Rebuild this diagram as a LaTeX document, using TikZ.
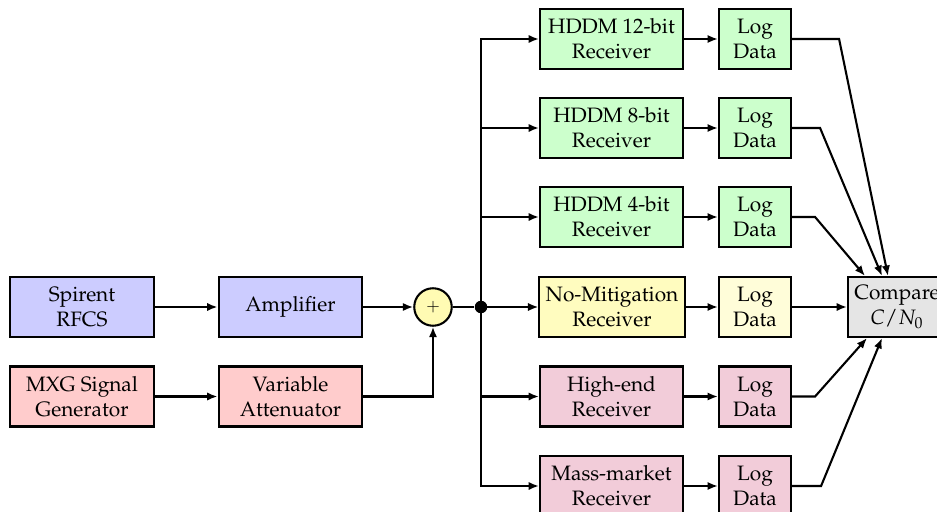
\documentclass[tikz,border=0pt]{standalone}
\usepackage[T1]{fontenc}
\usepackage{mathpazo}
\usetikzlibrary{arrows.meta,calc,positioning}

\tikzset{
  blk/.style={draw, line width=1pt, align=center, inner xsep=3pt, inner ysep=2pt,
              minimum height=28.8pt, font=\normalsize},
  srcbox/.style={blk, minimum width=69pt},
  rxbox/.style={blk, minimum width=68.6pt},
  logbox/.style={blk, minimum width=34.6pt},
  flow/.style={line width=1pt, -{Latex[length=5pt,width=4pt]}},
  wire/.style={line width=1pt},
}

\begin{document}
\begin{tikzpicture}[x=0.48pt, y=-0.48pt]
  \useasboundingbox (0,0) rectangle (937,512);

  % signal sources
  \node[srcbox, fill=blue!20] (spirent) at (82,307) {Spirent\\RFCS};
  \node[srcbox, fill=blue!20] (amp) at (290.5,307) {Amplifier};
  \node[srcbox, fill=red!20] (mxg) at (82,396.5) {MXG Signal\\Generator};
  \node[srcbox, fill=red!20] (att) at (290.5,396.5) {Variable\\Attenuator};

  % combiner and splitter
  \node[circle, draw, line width=1pt, fill=yellow!30, minimum size=18pt, inner sep=0pt,
        font=\footnotesize] (sum) at (433,307) {$+$};
  \node[circle, fill=black, inner sep=0pt, minimum size=6pt] (split) at (481,307) {};

  % receivers
  \node[rxbox, fill=green!20] (rx1) at (611.5,39) {HDDM 12-bit\\Receiver};
  \node[rxbox, fill=green!20] (rx2) at (611.5,128) {HDDM 8-bit\\Receiver};
  \node[rxbox, fill=green!20] (rx3) at (611.5,217) {HDDM 4-bit\\Receiver};
  \node[rxbox, fill=yellow!25] (rx4) at (612,307) {No-Mitigation\\Receiver};
  \node[rxbox, fill=purple!20] (rx5) at (611.5,396.5) {High-end\\Receiver};
  \node[rxbox, fill=purple!20] (rx6) at (611.5,486) {Mass-market\\Receiver};

  % data logging
  \node[logbox, fill=green!20] (log1) at (755,39) {Log\\Data};
  \node[logbox, fill=green!20] (log2) at (755,128) {Log\\Data};
  \node[logbox, fill=green!20] (log3) at (755,217) {Log\\Data};
  \node[logbox, fill=yellow!15] (log4) at (755,307) {Log\\Data};
  \node[logbox, fill=purple!20] (log5) at (755,396.5) {Log\\Data};
  \node[logbox, fill=purple!20] (log6) at (755,486) {Log\\Data};

  % comparison
  \node[blk, fill=gray!20, anchor=west] (cmp) at (847,307) {Compare\\$C/N_0$};

  % source chain
  \draw[flow] (spirent) -- (amp);
  \draw[flow] (amp) -- (sum);
  \draw[flow] (mxg) -- (att);
  \draw[flow] (att.east) -| (sum.south);
  \draw[wire] (sum) -- (split);

  % fan-out to receivers
  \foreach \i in {1,...,6} {
    \draw[flow] (split.center) |- (rx\i.west);
    \draw[flow] (rx\i) -- (log\i);
  }

  % entry points on the comparison block
  \coordinate (t1) at ($(cmp.north west)+(41,0)$);
  \coordinate (t2) at ($(cmp.north west)+(35,0)$);
  \coordinate (t3) at ($(cmp.north west)+(18,0)$);
  \coordinate (b5) at ($(cmp.south west)+(20,0)$);
  \coordinate (b6) at ($(cmp.south west)+(35,0)$);

  % logged data into the comparison
  \draw[flow] (log1.east) -- ++(47,0) -- (t1);
  \draw[flow] (log2.east) -- ++(28,0) -- (t2);
  \draw[flow] (log3.east) -- ++(23,0) -- (t3);
  \draw[flow] (log4) -- (cmp);
  \draw[flow] (log5.east) -- ++(23,0) -- (b5);
  \draw[flow] (log6.east) -- ++(29,0) -- (b6);
\end{tikzpicture}
\end{document}
